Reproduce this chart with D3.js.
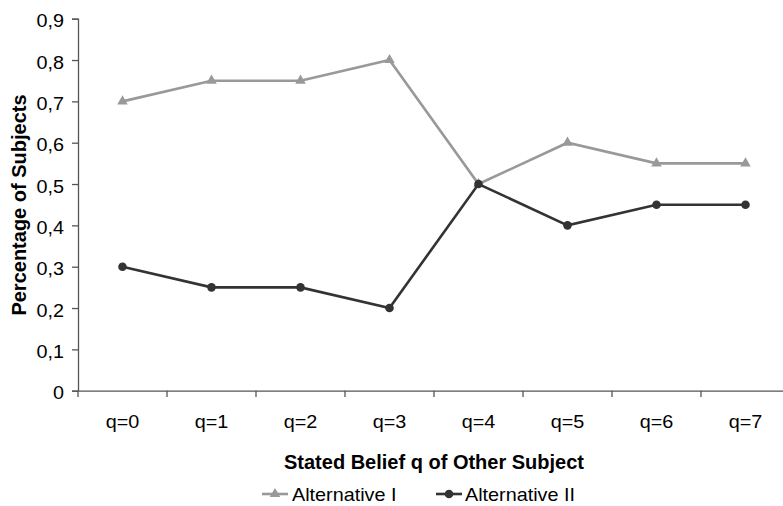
<!DOCTYPE html>
<html><head><meta charset="utf-8">
<script src="https://cdn.jsdelivr.net/npm/d3@7"></script>
<style>body{margin:0;background:#fff}svg{display:block}svg text{font-family:"Liberation Sans",Arial,sans-serif}</style>
</head><body>
<svg id="c" width="783" height="506"></svg>
<script>
const categories = ["q=0","q=1","q=2","q=3","q=4","q=5","q=6","q=7"];
const altI = [0.70,0.75,0.75,0.80,0.50,0.60,0.55,0.55];
const altII = [0.30,0.25,0.25,0.20,0.50,0.40,0.45,0.45];
const yTicks = [0,0.1,0.2,0.3,0.4,0.5,0.6,0.7,0.8,0.9];
const seriesNames = ["Alternative I","Alternative II"];
const colors = ["#999999","#333333"];
const SX = 1.1, FS = 18;

const svg = d3.select("#c");
const x = d3.scaleBand().domain(categories).range([78, 790]);
const y = d3.scaleLinear().domain([0,0.9]).range([390.7, 18.7]);

function stretch(sel) {
  sel.each(function() {
    const t = d3.select(this);
    const xv = +(t.attr("x") || 0);
    t.attr("x", xv / SX).attr("transform", `scale(${SX},1)`);
  });
}

// y axis
const yAxis = svg.append("g").attr("transform","translate(78,0)")
  .call(d3.axisLeft(y).tickValues(yTicks).tickSize(6).tickPadding(8)
    .tickFormat(d => d===0 ? "0" : d3.format(".1f")(d).replace(".",",")));
yAxis.attr("font-family", null).attr("font-size", null);
yAxis.select(".domain").attr("stroke","#555").attr("stroke-width",1.3);
yAxis.selectAll(".tick line").attr("stroke","#555").attr("stroke-width",1.3);
yAxis.selectAll("text").attr("font-size",FS).attr("fill","#000").attr("dy","0.45em").call(stretch);

// x axis
const xAxis = svg.append("g").attr("transform","translate(0,390.7)")
  .call(d3.axisBottom(x).tickSize(0).tickPadding(37));
xAxis.attr("font-family", null).attr("font-size", null);
xAxis.select(".domain").attr("stroke","#555").attr("stroke-width",1.3);
xAxis.selectAll("text").attr("font-size",FS).attr("fill","#000").attr("dy","0").call(stretch);
// category boundary ticks
svg.append("g").selectAll("line").data(categories).join("line")
  .attr("x1", d => x(d)).attr("x2", d => x(d))
  .attr("y1", 390.7).attr("y2", 397).attr("stroke","#555").attr("stroke-width",1.3);

const cx = d => x(d) + x.bandwidth()/2;
const line = d3.line().x((d,i) => cx(categories[i])).y(d => y(d));
const tri = d3.symbol().type(d3.symbolTriangle).size(48);

[altI, altII].forEach((vals, si) => {
  svg.append("path").datum(vals).attr("d", line).attr("fill","none")
    .attr("stroke", colors[si]).attr("stroke-width", 2.6);
  const g = svg.append("g");
  if (si === 0) {
    g.selectAll("path").data(vals).join("path").attr("d", tri)
      .attr("transform", (d,i) => `translate(${cx(categories[i])},${y(d)})`).attr("fill", colors[si]);
  } else {
    g.selectAll("circle").data(vals).join("circle")
      .attr("cx", (d,i) => cx(categories[i])).attr("cy", d => y(d)).attr("r", 4.3).attr("fill", colors[si]);
  }
});

// titles
svg.append("text").attr("x", 434).attr("y", 469).attr("text-anchor","middle")
  .attr("font-size",20).attr("font-weight","bold").text("Stated Belief q of Other Subject");
svg.append("text").attr("transform","translate(26,205) rotate(-90)").attr("text-anchor","middle")
  .attr("font-size",20).attr("font-weight","bold").text("Percentage of Subjects");

// legend
const leg = [{x0:262, tx:292},{x0:436, tx:465}];
leg.forEach((l, si) => {
  const ly = 494;
  svg.append("line").attr("x1", l.x0).attr("x2", l.x0+26).attr("y1", ly).attr("y2", ly)
    .attr("stroke", colors[si]).attr("stroke-width", 2.6);
  if (si === 0) svg.append("path").attr("d", tri).attr("transform", `translate(${l.x0+13},${ly})`).attr("fill", colors[si]);
  else svg.append("circle").attr("cx", l.x0+13).attr("cy", ly).attr("r", 4.3).attr("fill", colors[si]);
  svg.append("text").attr("x", l.tx).attr("y", ly+7).attr("font-size",FS).text(seriesNames[si]).call(stretch);
});
</script>
</body></html>
